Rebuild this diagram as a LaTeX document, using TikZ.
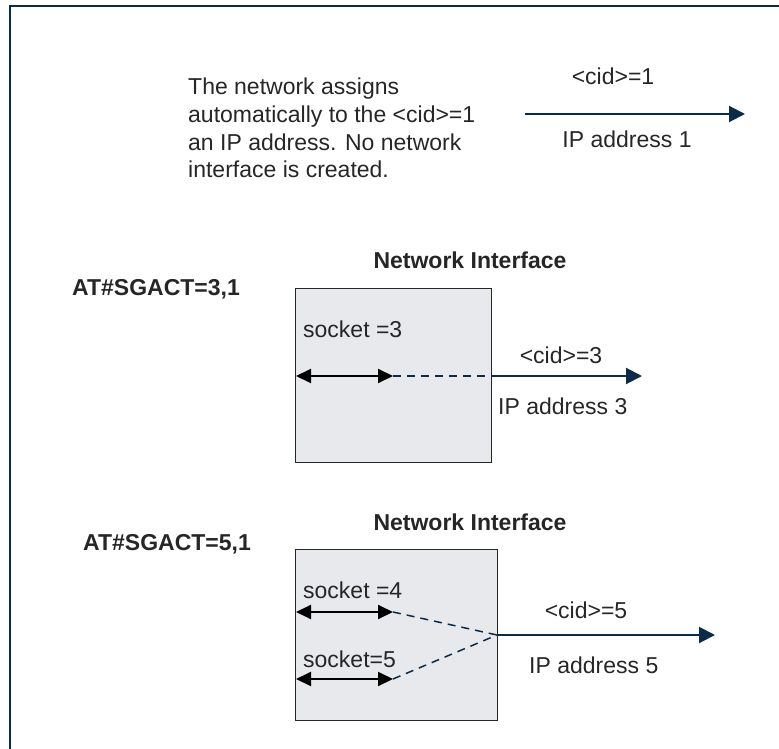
\documentclass[tikz,border=0pt]{standalone}
\usepackage{fontspec}
\setmainfont{Liberation Sans}
\usetikzlibrary{arrows.meta}
\definecolor{navy}{HTML}{0B2B48}
\definecolor{txtgrey}{HTML}{262626}
\definecolor{boxfill}{HTML}{E8E9ED}

\begin{document}
\begin{tikzpicture}[x=1pt,y=-1pt,
    every node/.style={inner sep=0pt,text=txtgrey,font=\fontsize{23}{27.7}\selectfont},
    title/.style={font=\fontsize{23}{27.7}\selectfont\bfseries},
    iface/.style={draw=txtgrey,fill=boxfill,line width=1.3pt,anchor=north west},
    link/.style={navy,line width=2pt,-{Triangle[length=16pt,width=16pt]}},
    sock/.style={black,line width=2pt,{Triangle[length=15pt,width=14pt]}-{Triangle[length=15pt,width=14pt]}},
    tail/.style={navy,line width=1.5pt,dash pattern=on 8pt off 6pt}]
  \useasboundingbox (0,0) rectangle (779,749);
  \clip (0,0) rectangle (779,749);
  \draw[navy,line width=2pt] (10,6) rectangle (800,770);

  \node[anchor=base west,align=left] (note) at (188,178)
    {The network assigns\\automatically to the <cid>=1\\an IP address. No network\\interface is created.};
  \node[anchor=base] (cid1) at (613,85) {<cid>=1};
  \node[anchor=base] (ip1) at (627,147) {IP address 1};
  \coordinate (a1) at (525,114);
  \coordinate (b1) at (745,114);
  \draw[link] (a1) -- (b1);

  \node[title,anchor=base] (ni3) at (470,268) {Network Interface};
  \node[title,anchor=base west] (at3) at (72,295) {AT\#SGACT=3,1};
  \node[iface,minimum width=196,minimum height=174] (if3) at (295,288) {};
  \node[anchor=base west] (sk3) at (303,337) {socket =3};
  \node[anchor=base] (cid3) at (561,363) {<cid>=3};
  \node[anchor=base west] (ip3) at (498,414) {IP address 3};
  \coordinate (s3a) at (296,376);
  \coordinate (s3b) at (393,376);
  \coordinate (c3) at (if3.east |- s3a);
  \coordinate (e3) at (642,376);
  \draw[sock] (s3a) -- (s3b);
  \draw[tail] (s3b) -- (c3);
  \draw[link] (c3) -- (e3);

  \node[title,anchor=base] (ni5) at (470,530) {Network Interface};
  \node[title,anchor=base west] (at5) at (83,550) {AT\#SGACT=5,1};
  \node[iface,minimum width=202,minimum height=171] (if5) at (295,549) {};
  \node[anchor=base west] (sk4) at (303,598) {socket =4};
  \node[anchor=base west] (sk5) at (303,667) {socket=5};
  \node[anchor=base] (cid5) at (586,618) {<cid>=5};
  \node[anchor=base west] (ip5) at (529,673) {IP address 5};
  \coordinate (s4a) at (296,612);
  \coordinate (s4b) at (393,612);
  \coordinate (s5a) at (296,679);
  \coordinate (s5b) at (393,679);
  \coordinate (c5) at (497,635);
  \coordinate (e5) at (715,635);
  \draw[sock] (s4a) -- (s4b);
  \draw[sock] (s5a) -- (s5b);
  \draw[tail] (s4b) -- (c5);
  \draw[tail] (s5b) -- (c5);
  \draw[link] (c5) -- (e5);
\end{tikzpicture}
\end{document}
